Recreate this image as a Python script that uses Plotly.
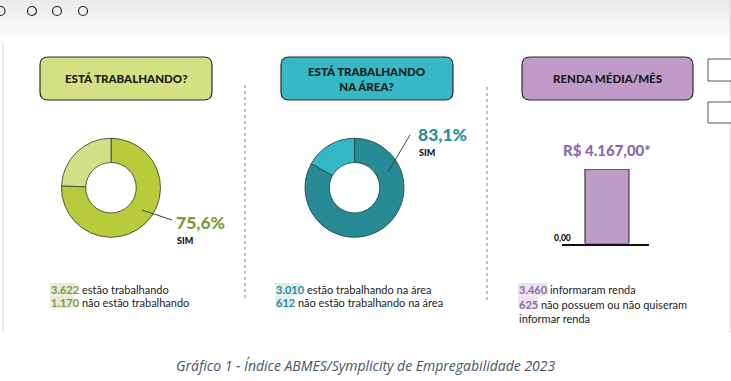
import plotly.graph_objects as go

W, H = 731, 381

# ---------------- data ----------------
labels_trab = ["Sim", "Não"]
values_trab = [75.6, 24.4]
labels_area = ["Sim", "Não"]
values_area = [83.1, 16.9]
renda_cat = ["Renda média"]
renda_val = [4167.00]
renda_label = "R$ 4.167,00*"
renda_tick = ["0,00"]

titles = ["ESTÁ TRABALHANDO?", "ESTÁ TRABALHANDO<br>NA ÁREA?", "RENDA MÉDIA/MÊS"]
pct_labels = ["75,6%", "83,1%"]
count_nums = [["3.622", "1.170"], ["3.010", "612"], ["3.460", "625"]]
count_texts = [[" estão trabalhando", " não estão trabalhando"],
               [" estão trabalhando na área", " não estão trabalhando na área"],
               [" informaram renda", " não possuem ou não quiseram<br>informar renda"]]
caption = "Gráfico 1 - Índice ABMES/Symplicity de Empregabilidade 2023"

C_GREEN = "#b8cc3b"; C_GREEN_L = "#d3df88"; C_GREEN_T = "#7e9a36"
C_TEAL = "#268b94"; C_TEAL_L = "#34b8c5"; C_TEAL_T = "#2a8e97"
C_PURP = "#bf9bc8"; C_PURP_T = "#8d6aa8"


def px(x):
    return x / W


def py(y):
    return 1 - y / H


fig = go.Figure()

# donuts
fig.add_trace(go.Pie(labels=labels_trab, values=values_trab, hole=0.51, sort=False,
                     direction="clockwise", rotation=0, textinfo="none", hoverinfo="label+percent",
                     marker=dict(colors=[C_GREEN, C_GREEN_L], line=dict(color="#2f3a2a", width=0.8)),
                     domain=dict(x=[px(61.5), px(160.5)], y=[py(237.5), py(138)]), showlegend=False))
fig.add_trace(go.Pie(labels=labels_area, values=values_area, hole=0.51, sort=False,
                     direction="clockwise", rotation=0, textinfo="none", hoverinfo="label+percent",
                     marker=dict(colors=[C_TEAL, C_TEAL_L], line=dict(color="#1f3b3d", width=0.8)),
                     domain=dict(x=[px(305), px(404)], y=[py(237.5), py(138)]), showlegend=False))

# bar
fig.add_trace(go.Bar(x=renda_cat, y=renda_val, width=0.506,
                     marker=dict(color=C_PURP, line=dict(color="#222", width=1)),
                     showlegend=False, hoverinfo="y"))

fig.update_layout(
    width=W, height=H, margin=dict(l=0, r=0, t=0, b=0),
    paper_bgcolor="white", plot_bgcolor="rgba(0,0,0,0)",
    xaxis=dict(domain=[px(562), px(649)], range=[-0.517, 0.483], showticklabels=False,
               showgrid=False, zeroline=False, showline=True, linecolor="#111", linewidth=1.5,
               fixedrange=True),
    yaxis=dict(domain=[py(243.5), py(169)], range=[0, renda_val[0]], showticklabels=False,
               showgrid=False, zeroline=False, showline=False, fixedrange=True),
)

shapes = []
# top gradient strip
n = 15
for i in range(n):
    y0 = i * 46 / n
    y1 = (i + 1) * 46 / n
    g = int(235 + (255 - 235) * (i / (n - 1)))
    shapes.append(dict(type="rect", xref="paper", yref="paper", x0=0, x1=1, y0=py(y1), y1=py(y0),
                       fillcolor=f"rgb({g},{g},{g})", line=dict(width=0), layer="below"))
# circles on top
for cx in [0.5, 32, 57, 83]:
    shapes.append(dict(type="circle", xref="paper", yref="paper", x0=px(cx - 4.5), x1=px(cx + 4.5),
                       y0=py(15.5), y1=py(6.5), line=dict(color="#222", width=1.2)))
# borders
shapes.append(dict(type="line", xref="paper", yref="paper", x0=px(3), x1=px(3), y0=py(333), y1=py(42),
                   line=dict(color="#d6d6d6", width=1)))
shapes.append(dict(type="line", xref="paper", yref="paper", x0=px(730), x1=px(730), y0=py(333), y1=py(0),
                   line=dict(color="#d6d6d6", width=1)))
# dashed separators
for sx, y1 in [(245, 298), (487, 300)]:
    shapes.append(dict(type="line", xref="paper", yref="paper", x0=px(sx), x1=px(sx), y0=py(y1), y1=py(84),
                       line=dict(color="#6a8f8f", width=1, dash="dot")))


def rrect(x0, y0, x1, y1, r):
    rx, ry = r / W, r / H
    X0, X1, Y0, Y1 = px(x0), px(x1), py(y0), py(y1)  # Y0 top, Y1 bottom
    return (f"M {X0+rx},{Y0} L {X1-rx},{Y0} Q {X1},{Y0} {X1},{Y0-ry} "
            f"L {X1},{Y1+ry} Q {X1},{Y1} {X1-rx},{Y1} L {X0+rx},{Y1} Q {X0},{Y1} {X0},{Y1+ry} "
            f"L {X0},{Y0-ry} Q {X0},{Y0} {X0+rx},{Y0} Z")


boxes = [(40, 212, "#d4e084"), (281, 453, "#36b8c6"), (522, 693, "#c09bca")]
for (x0, x1, col) in boxes:
    shapes.append(dict(type="path", xref="paper", yref="paper", path=rrect(x0, 57, x1, 100, 8),
                       fillcolor=col, line=dict(color="#2a2a2a", width=1.2)))
# small boxes at right
for (y0, y1) in [(59, 81), (102, 123)]:
    shapes.append(dict(type="rect", xref="paper", yref="paper", x0=px(708), x1=px(733), y0=py(y1), y1=py(y0),
                       fillcolor="white", line=dict(color="#555", width=1)))
# leader lines
shapes.append(dict(type="line", xref="paper", yref="paper", x0=px(142), y0=py(210), x1=px(172), y1=py(220),
                   line=dict(color="#2e4a4c", width=1)))
shapes.append(dict(type="line", xref="paper", yref="paper", x0=px(388), y0=py(172), x1=px(410), y1=py(135),
                   line=dict(color="#2e4a4c", width=1)))
# highlight behind numbers
hl = [(50, 75, 283, 295.5, "#e8ebdb"), (50, 73, 296, 308, "#e8ebdb"),
      (275, 301, 283, 295.5, "#deedf0"), (275, 292, 296, 308, "#deedf0"),
      (518, 548, 283, 295.5, "#ece3f0"), (518, 538, 296, 308, "#ece3f0")]
for (x0, x1, y0, y1, c) in hl:
    shapes.append(dict(type="rect", xref="paper", yref="paper", x0=px(x0), x1=px(x1), y0=py(y1), y1=py(y0),
                       fillcolor=c, line=dict(width=0), layer="below"))
fig.update_layout(shapes=shapes)

ann = []
TF = "Lato"
box_cx = [126, 367, 607.5]
for i, t in enumerate(titles):
    ann.append(dict(x=px(box_cx[i]), y=py(78.5), xref="paper", yref="paper", text=t,
                    showarrow=False, xanchor="center", yanchor="middle",
                    font=dict(family=TF, size=11.5, color="#1a1a1a", weight=900)))
# percentages
ann.append(dict(x=px(174), y=py(222.5), xref="paper", yref="paper", text=pct_labels[0],
                showarrow=False, xanchor="left", yanchor="middle",
                font=dict(family=TF, size=17.5, color=C_GREEN_T, weight=900)))
ann.append(dict(x=px(175), y=py(240.5), xref="paper", yref="paper", text="SIM",
                showarrow=False, xanchor="left", yanchor="middle",
                font=dict(family=TF, size=9, color="#111", weight=900)))
ann.append(dict(x=px(416), y=py(134), xref="paper", yref="paper", text=pct_labels[1],
                showarrow=False, xanchor="left", yanchor="middle",
                font=dict(family=TF, size=17.5, color=C_TEAL_T, weight=900)))
ann.append(dict(x=px(417), y=py(152), xref="paper", yref="paper", text="SIM",
                showarrow=False, xanchor="left", yanchor="middle",
                font=dict(family=TF, size=9, color="#111", weight=900)))
# bar labels
ann.append(dict(x=renda_cat[0], y=renda_val[0], xref="x", yref="y", text=renda_label,
                showarrow=False, xanchor="center", yanchor="bottom", yshift=8,
                font=dict(family=TF, size=15, color=C_PURP_T, weight=900)))
ann.append(dict(x=px(552), y=py(237.5), xref="paper", yref="paper", text=renda_tick[0],
                showarrow=False, xanchor="left", yanchor="middle",
                font=dict(family=TF, size=8.5, color="#111", weight=900)))
# counts
col_x = [49, 274, 517]
num_cols = [C_GREEN_T, C_TEAL_T, C_PURP_T]
for i in range(3):
    for j in range(2):
        ann.append(dict(x=px(col_x[i]), y=py(289.5 + 13 * j), xref="paper", yref="paper",
                        text=f"<b><span style='color:{num_cols[i]}'>{count_nums[i][j]}</span></b>{count_texts[i][j]}",
                        showarrow=False, xanchor="left", yanchor="top" if (i == 2 and j == 1) else "middle",
                        yshift=6.5 if (i == 2 and j == 1) else 0, align="left",
                        font=dict(family=TF, size=11, color="#222")))
# caption
ann.append(dict(x=px(366), y=py(365), xref="paper", yref="paper", text=f"<i>{caption}</i>",
                showarrow=False, xanchor="center", yanchor="middle",
                font=dict(family="Open Sans", size=14, color="#44546a")))
fig.update_layout(annotations=ann)

fig.write_html("out.html", config={"displayModeBar": False},
               post_script="document.body.style.margin='0';document.body.style.overflow='hidden';")
